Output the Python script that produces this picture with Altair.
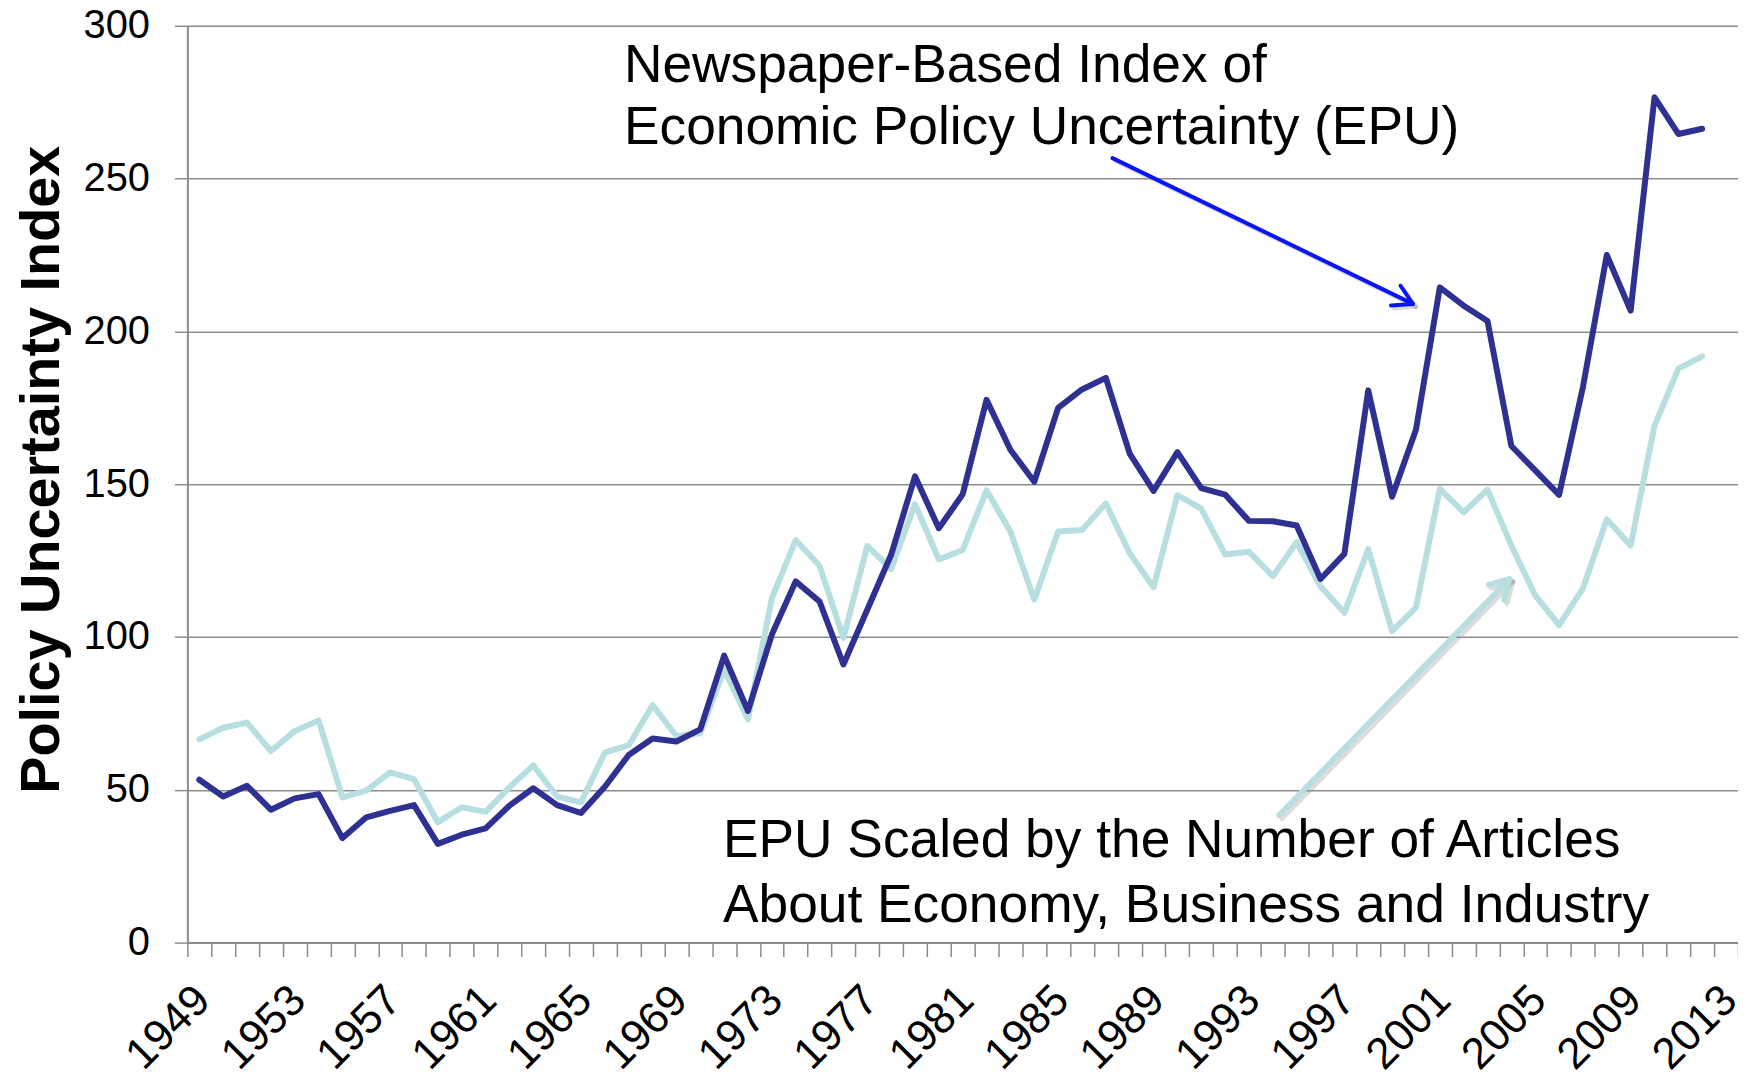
import math
import altair as alt
import pandas as pd

# ---------------- data ----------------
years = list(range(1949, 2013))
epu = [53.3, 47.8, 51.3, 43.5, 47.2, 48.6, 34.2, 41.0, 43.1, 45.0,
       32.3, 35.3, 37.4, 44.8, 50.5, 45.0, 42.4, 51.0, 61.4, 66.8,
       65.8, 69.8, 93.9, 75.8, 100.8, 118.2, 111.6, 91.0, 108.9, 126.9,
       152.6, 135.6, 146.7, 177.6, 161.3, 150.8, 175.0, 181.0, 184.8, 160.0,
       147.8, 160.5, 148.7, 146.6, 138.0, 137.9, 136.5, 119.0, 127.2, 180.7,
       145.9, 167.8, 214.4, 208.4, 203.4, 162.5, 154.5, 146.5, 181.8, 225.0,
       206.8, 276.6, 264.6, 266.3]
epu_scaled = [66.5, 70.3, 72.0, 62.7, 69.2, 72.7, 47.5, 49.7, 55.7, 53.5,
              39.4, 44.3, 42.8, 50.8, 58.0, 47.8, 45.9, 62.2, 64.6, 77.7,
              67.6, 68.5, 89.4, 73.0, 112.7, 131.7, 123.3, 99.7, 129.8, 122.2,
              143.5, 125.4, 128.5, 148.0, 134.5, 112.2, 134.5, 135.0, 143.7, 127.4,
              116.3, 146.4, 142.0, 127.0, 127.9, 119.9, 131.0, 116.6, 107.9, 128.8,
              101.9, 109.6, 148.5, 140.8, 148.2, 129.9, 113.6, 103.9, 115.9, 138.5,
              129.9, 169.1, 187.8, 191.8]

label_years = list(range(1949, 2014, 4))
category_bounds = [y + 0.5 for y in range(1948, 2014)]
y_ticks = [0, 50, 100, 150, 200, 250, 300]

ann_text = ["Newspaper-Based Index of", "Economic Policy Uncertainty (EPU)",
            "EPU Scaled by the Number of Articles", "About Economy, Business and Industry"]
ann_x = [1966.8, 1966.8, 1970.95, 1970.95]
ann_y = [281.7, 261.2, 27.9, 6.9]

arrow_from = [(1987.28, 256.7), (1994.26, 41.7)]
arrow_to = [(1999.87, 209.0), (2003.92, 119.0)]

# ---------------- styling ----------------
DARK = "#2f3192"
LIGHT = "#b7dee1"
ARROW_BLUE = "#0a14f5"
GRID = "#8c8c8c"
FONT = "Liberation Sans"
W, H = 1556, 920
X_DOMAIN = [1948.5, 2013.5]
PX_YEAR = W / (X_DOMAIN[1] - X_DOMAIN[0])
PX_UNIT = H / 300.0

df = pd.DataFrame({"year": years, "epu": epu, "scaled": epu_scaled})
ann = pd.DataFrame({"x": ann_x, "y": ann_y, "text": ann_text})


def arrow_rows(p0, p1, color, width, head=22.0, spread=math.radians(30)):
    rows = [dict(x=p0[0], y=p0[1], x2=p1[0], y2=p1[1], c=color, w=width)]
    dx = (p1[0] - p0[0]) * PX_YEAR
    dy = -(p1[1] - p0[1]) * PX_UNIT
    back = math.atan2(dy, dx) + math.pi
    for s in (-spread, spread):
        a = back + s
        rows.append(dict(x=p1[0], y=p1[1],
                         x2=p1[0] + head * math.cos(a) / PX_YEAR,
                         y2=p1[1] - head * math.sin(a) / PX_UNIT, c=color, w=width))
    return rows


arrows = pd.DataFrame(arrow_rows(arrow_from[0], arrow_to[0], ARROW_BLUE, 4.0)
                      + arrow_rows(arrow_from[1], arrow_to[1], LIGHT, 5.5))
sx, sy = 3 / PX_YEAR, -3 / PX_UNIT
shadow = arrows.assign(x=arrows.x + sx, x2=arrows.x2 + sx, y=arrows.y + sy, y2=arrows.y2 + sy)

x_scale = alt.Scale(domain=X_DOMAIN, nice=False, zero=False)
y_scale = alt.Scale(domain=[0, 300], nice=False)

tick_axis = alt.Axis(orient="bottom", values=category_bounds, labels=False, ticks=True,
                     tickSize=14, tickColor=GRID, tickWidth=1.5, domain=True,
                     domainColor=GRID, domainWidth=2, grid=False, title=None)
label_axis = alt.Axis(orient="bottom", values=label_years, ticks=False, domain=False,
                      grid=False, labels=True, labelAngle=-45, labelFontSize=44,
                      labelFont=FONT, labelColor="black", labelPadding=35, labelOffset=-12,
                      labelFlush=False, labelOverlap=False, labelBound=False,
                      format="d", title=None, tickSize=0)
y_axis = alt.Axis(orient="left", values=y_ticks, grid=True, gridColor=GRID, gridWidth=1.5,
                  gridOpacity=1, domain=True, domainColor=GRID, domainWidth=2,
                  ticks=True, tickColor=GRID, tickWidth=1.5,
                  tickSize=13, labelFontSize=40, labelFont=FONT, labelColor="black",
                  labelPadding=25, labelOverlap=False,
                  title="Policy Uncertainty Index", titleFont=FONT, titleFontSize=56,
                  titleFontWeight="bold", titleColor="black", titleAngle=270,
                  titleAlign="center", titleBaseline="middle", titleX=-146, titleY=445)

light = alt.Chart(df).mark_line(color=LIGHT, strokeWidth=6, strokeJoin="round",
                                strokeCap="round").encode(
    x=alt.X("year:Q", scale=x_scale, axis=tick_axis),
    y=alt.Y("scaled:Q", scale=y_scale, axis=y_axis),
)
dark = alt.Chart(df).mark_line(color=DARK, strokeWidth=6, strokeJoin="round",
                               strokeCap="round").encode(
    x=alt.X("year:Q", scale=x_scale, axis=label_axis),
    y=alt.Y("epu:Q", scale=y_scale, axis=None),
)

shadow_layer = alt.Chart(shadow).mark_rule(strokeCap="round", color="#9a9a9a",
                                           opacity=0.35).encode(
    x=alt.X("x:Q", scale=x_scale, axis=None), x2="x2:Q",
    y=alt.Y("y:Q", scale=y_scale, axis=None), y2="y2:Q",
    strokeWidth=alt.StrokeWidth("w:Q", scale=None),
)
arrow_layer = alt.Chart(arrows).mark_rule(strokeCap="round").encode(
    x=alt.X("x:Q", scale=x_scale, axis=None), x2="x2:Q",
    y=alt.Y("y:Q", scale=y_scale, axis=None), y2="y2:Q",
    color=alt.Color("c:N", scale=None),
    strokeWidth=alt.StrokeWidth("w:Q", scale=None),
)
text_layer = alt.Chart(ann).mark_text(align="left", baseline="alphabetic", fontSize=53.5,
                                      font=FONT, color="black").encode(
    x=alt.X("x:Q", scale=x_scale, axis=None),
    y=alt.Y("y:Q", scale=y_scale, axis=None),
    text="text:N",
)

chart = alt.layer(light, dark, shadow_layer, arrow_layer, text_layer).resolve_axis(
    x="independent", y="independent"
).properties(
    width=W, height=H,
    autosize=alt.AutoSizeParams(type="none"),
    padding={"left": 180, "top": 16, "right": 0, "bottom": 134},
).configure_view(stroke=None).configure(background="white")

chart.save("out.html", embed_options={"renderer": "svg", "actions": False})
